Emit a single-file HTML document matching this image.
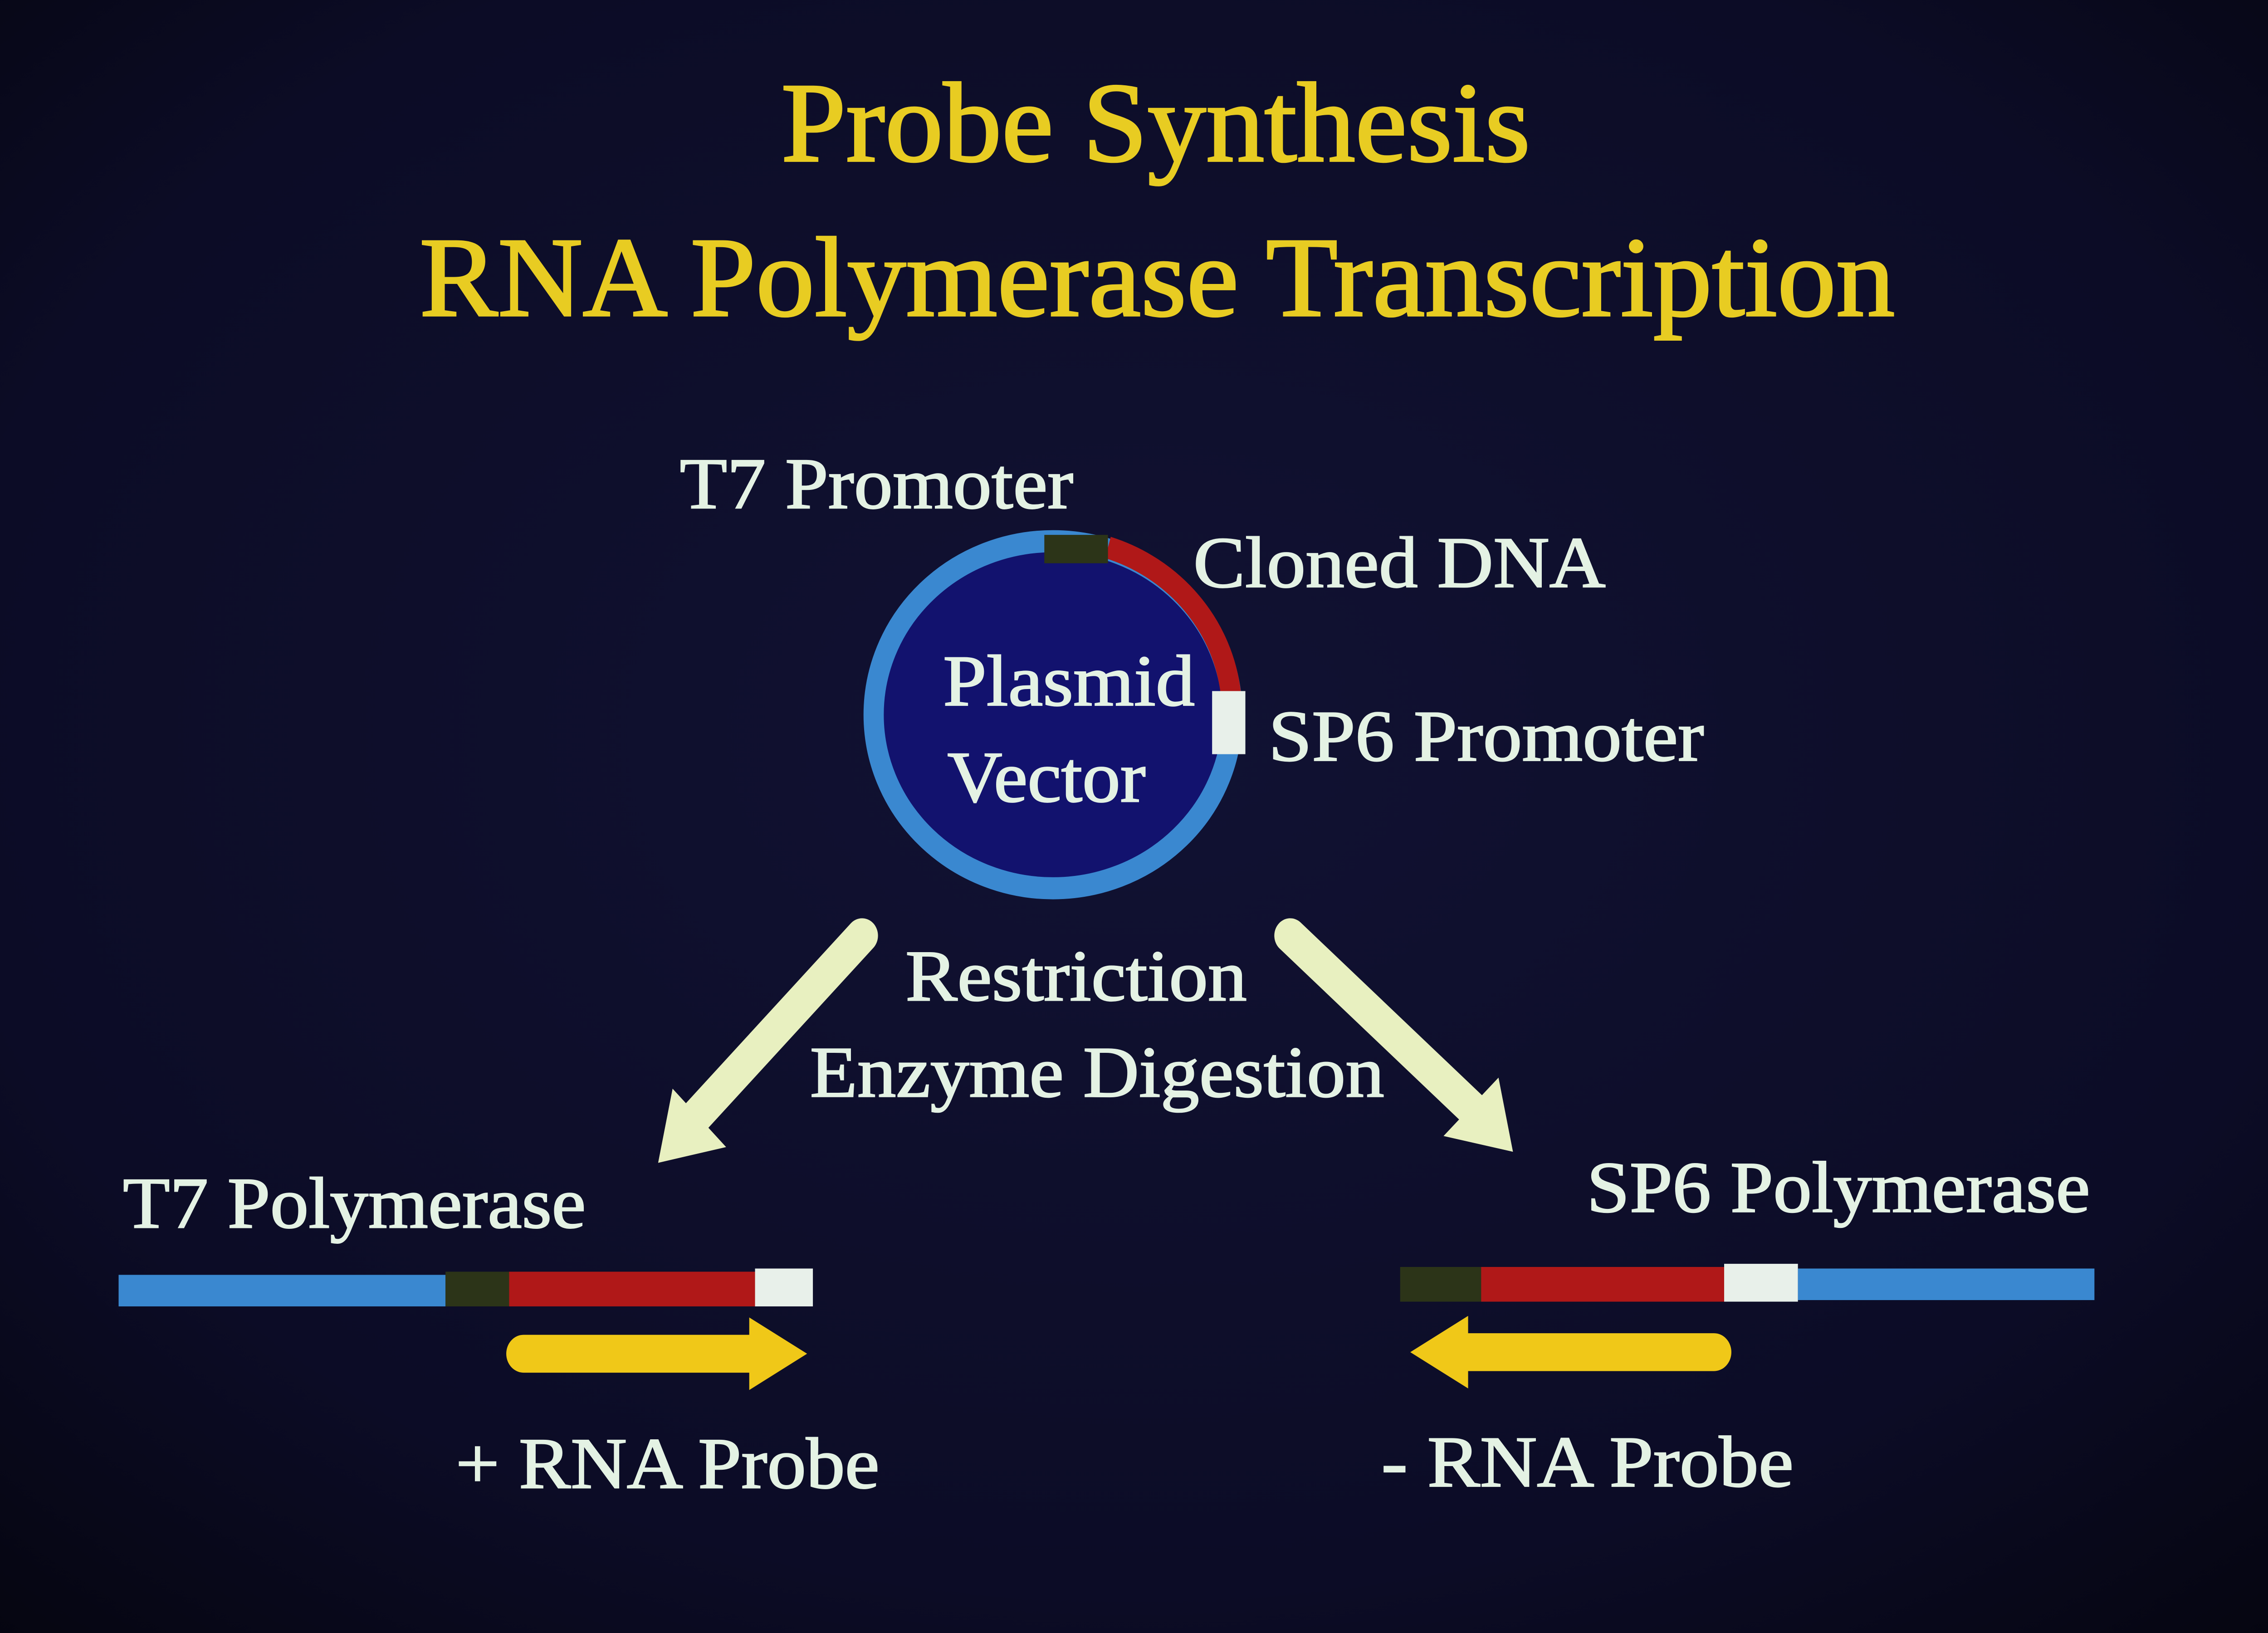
<!DOCTYPE html>
<html><head><meta charset="utf-8">
<style>
html,body{margin:0;padding:0;background:#0b0b22;width:5452px;height:3600px;overflow:hidden;}
svg{position:fixed;left:0;top:0;width:100vw;height:100vh;display:block;}
</style></head>
<body>
<svg viewBox="0 0 1568 1035" preserveAspectRatio="none" xmlns="http://www.w3.org/2000/svg">
<defs>
<radialGradient id="bg" cx="0.5" cy="0.45" r="0.75">
<stop offset="0" stop-color="#111233"/>
<stop offset="0.7" stop-color="#0c0c26"/>
<stop offset="1" stop-color="#050510"/>
</radialGradient>
</defs>
<rect width="1568" height="1035" fill="url(#bg)"/>
<g font-family="Liberation Serif, serif" fill="#e8cc22" stroke="#e8cc22" stroke-width="1.2">
<text x="540" y="102" font-size="72" textLength="518" lengthAdjust="spacingAndGlyphs">Probe Synthesis</text>
<text x="290" y="200" font-size="72" textLength="1020" lengthAdjust="spacingAndGlyphs">RNA Polymerase Transcription</text>
</g>
<!-- plasmid -->
<ellipse cx="728" cy="453" rx="124" ry="110" fill="#12126e" stroke="#3a88d0" stroke-width="14"/>
<path d="M766 347 A124 110 0 0 1 851 440" fill="none" stroke="#b01818" stroke-width="14"/>
<rect x="722" y="339" width="44" height="18" fill="#2c3418"/>
<rect x="838" y="438" width="23" height="40" fill="#e8f0ea"/>
<g font-family="Liberation Serif, serif" fill="#e4f2e4" stroke="#e4f2e4" stroke-width="0.8" font-size="46">
<text x="470" y="322" textLength="272" lengthAdjust="spacingAndGlyphs">T7 Promoter</text>
<text x="825" y="372" textLength="285" lengthAdjust="spacingAndGlyphs">Cloned DNA</text>
<text x="877" y="482" textLength="301" lengthAdjust="spacingAndGlyphs">SP6 Promoter</text>
<text x="652" y="447" textLength="174" lengthAdjust="spacingAndGlyphs">Plasmid</text>
<text x="655" y="508" textLength="137" lengthAdjust="spacingAndGlyphs">Vector</text>
<text x="626" y="634" textLength="236" lengthAdjust="spacingAndGlyphs">Restriction</text>
<text x="560" y="695" textLength="397" lengthAdjust="spacingAndGlyphs">Enzyme Digestion</text>
<text x="85" y="778" textLength="320" lengthAdjust="spacingAndGlyphs">T7 Polymerase</text>
<text x="1097" y="768" textLength="348" lengthAdjust="spacingAndGlyphs">SP6 Polymerase</text>
<text x="315" y="943" textLength="293" lengthAdjust="spacingAndGlyphs">+ RNA Probe</text>
<text x="955" y="942" textLength="285" lengthAdjust="spacingAndGlyphs">- RNA Probe</text>
</g>
<!-- digestion arrows -->
<g stroke="#e8f0c0" stroke-width="22" stroke-linecap="round">
<line x1="596" y1="593" x2="482" y2="707"/>
<line x1="892" y1="593" x2="1018" y2="703"/>
</g>
<polygon points="455,737 465,690 502,727" fill="#e8f0c0"/>
<polygon points="1046,730 998,720 1036,683" fill="#e8f0c0"/>
<!-- left bar -->
<rect x="82" y="808" width="226" height="20" fill="#3a88d0"/>
<rect x="308" y="806" width="44" height="22" fill="#2c3418"/>
<rect x="352" y="806" width="170" height="22" fill="#b01818"/>
<rect x="522" y="804" width="40" height="24" fill="#e8f0ea"/>
<!-- right bar -->
<rect x="968" y="803" width="56" height="22" fill="#2c3418"/>
<rect x="1024" y="803" width="168" height="22" fill="#b01818"/>
<rect x="1192" y="801" width="51" height="24" fill="#e8f0ea"/>
<rect x="1243" y="804" width="205" height="20" fill="#3a88d0"/>
<!-- yellow arrows -->
<line x1="362" y1="858" x2="522" y2="858" stroke="#f0c818" stroke-width="24" stroke-linecap="round"/>
<polygon points="518,835 558,858 518,881" fill="#f0c818"/>
<line x1="1185" y1="857" x2="1012" y2="857" stroke="#f0c818" stroke-width="24" stroke-linecap="round"/>
<polygon points="1015,834 975,857 1015,880" fill="#f0c818"/>
</svg>
</body></html>
